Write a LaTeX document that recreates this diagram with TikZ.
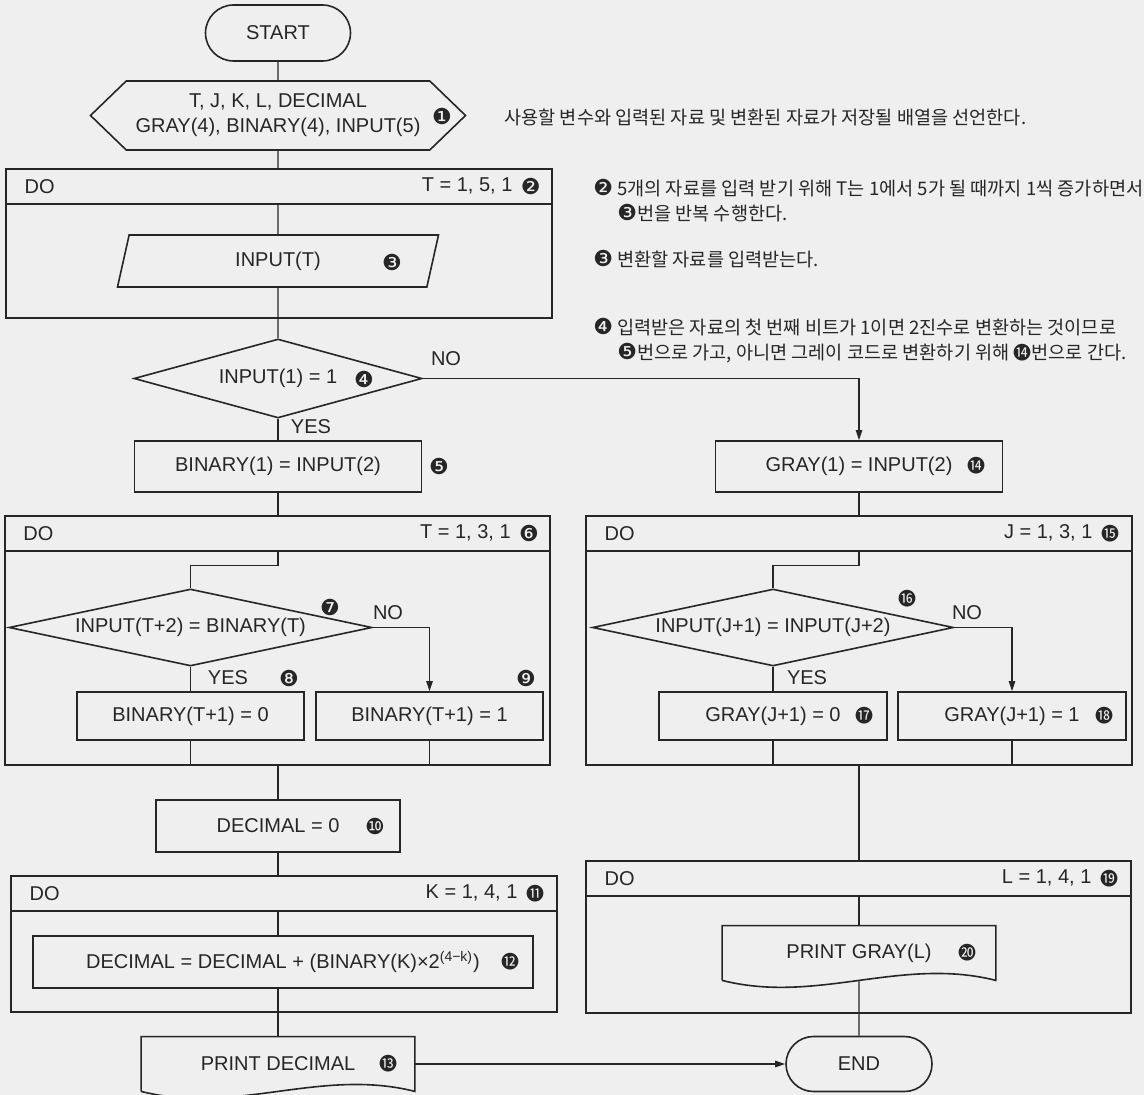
\documentclass[tikz,border=0pt]{standalone}
\usepackage{fontspec}
\setmainfont{Liberation Sans}
\newfontfamily\kr{Noto Sans CJK KR}
\newfontfamily\dv{DejaVu Sans}
\usetikzlibrary{arrows.meta,shapes.geometric,shapes.misc,shapes.symbols}
\definecolor{bg}{HTML}{EFEFEF}
\definecolor{ink}{HTML}{262626}
\newcommand\cn[1]{{\dv\fontsize{11}{10}\selectfont#1}}
\newcommand\ck[1]{{\kr\fontsize{9}{10}\selectfont#1}}
\tikzset{
  box/.style={draw=ink,line width=0.8pt,inner sep=0pt},
  proc/.style={box,rectangle},
  line/.style={draw=ink,line width=0.6pt},
  arr/.style={line,-{Triangle[length=5pt,width=3.2pt]}},
  num/.style={inner sep=0pt},
  note/.style={anchor=west,align=left,inner sep=0pt,font=\kr\fontsize{9.3}{12.5}\selectfont},
}
\begin{document}
\begin{tikzpicture}[x=0.5pt,y=-0.5pt,text=ink]
  \fill[bg] (0,0) rectangle (1144,1095);
  \useasboundingbox (0,0) rectangle (1144,1095);
  % left column
  \node[box,rounded rectangle,minimum width=72.5pt,minimum height=28pt] (start) at (278,33) {START};
  \node[box,signal,signal to=west and east,signal pointer angle=88,minimum width=187.5pt,minimum height=34.5pt,align=center] (decl) at (278,115.5) {T, J, K, L, DECIMAL\\[0.5pt]GRAY(4), BINARY(4), INPUT(5)};
  \node[proc,minimum width=273pt,minimum height=74.5pt] (doT) at (279,243.5) {};
  \node[box,trapezium,trapezium left angle=58,trapezium right angle=122,trapezium stretches body,minimum width=160.5pt,minimum height=26pt] (inp) at (278,261) {INPUT(T)};
  \node[box,diamond,aspect=3.6,minimum width=144pt,minimum height=39.5pt] (cond1) at (278,378.5) {INPUT(1) = 1};
  \node[proc,minimum width=143.5pt,minimum height=25.5pt] (b5) at (278,466.5) {BINARY(1) = INPUT(2)};
  \node[proc,minimum width=272.75pt,minimum height=124.5pt] (doT2) at (277.5,640.5) {};
  \node[box,diamond,aspect=4.7,minimum width=181.5pt,minimum height=38.5pt] (cond2) at (190.5,627.5) {INPUT(T+2) = BINARY(T)};
  \node[proc,minimum width=113.5pt,minimum height=24pt] (b8) at (190.5,716) {BINARY(T+1) = 0};
  \node[proc,minimum width=113.5pt,minimum height=24pt] (b9) at (429.5,716) {BINARY(T+1) = 1};
  \node[proc,minimum width=122pt,minimum height=26pt] (dec0) at (278,826) {DECIMAL = 0};
  \node[proc,minimum width=273pt,minimum height=68pt] (doK) at (284,944) {};
  \node[proc,minimum width=250pt,minimum height=26pt] (calc) at (283,962) {DECIMAL = DECIMAL + (BINARY(K)×2\textsuperscript{(4−k)})};
  \node[inner sep=0pt,minimum width=136.5pt,minimum height=27pt] (pd) at (278,1064) {PRINT DECIMAL};
  % right column
  \node[proc,minimum width=143.5pt,minimum height=25.5pt] (g1) at (859,466.5) {GRAY(1) = INPUT(2)};
  \node[proc,minimum width=273pt,minimum height=124.5pt] (doJ) at (859,640.5) {};
  \node[box,diamond,aspect=4.7,minimum width=180.5pt,minimum height=38.5pt] (cond3) at (773,627.5) {INPUT(J+1) = INPUT(J+2)};
  \node[proc,minimum width=114pt,minimum height=24pt] (b17) at (773,716) {GRAY(J+1) = 0};
  \node[proc,minimum width=114pt,minimum height=24pt] (b18) at (1012,716) {GRAY(J+1) = 1};
  \node[proc,minimum width=272.5pt,minimum height=76pt] (doL) at (858.5,937) {};
  \node[inner sep=0pt,minimum width=136.5pt,minimum height=27pt] (pg) at (859,953) {PRINT GRAY(L)};
  \node[box,rounded rectangle,minimum width=73pt,minimum height=27.5pt] (endn) at (859,1064) {END};
  \foreach \d in {pd,pg}
    \draw[box] (\d.south west) -- (\d.north west) -- (\d.north east) -- (\d.south east)
      .. controls +(-95,-24) and +(95,24) .. (\d.south west);
  \foreach \b/\r/\n in {doT/{T = 1, 5, 1}/\cn{❷}, doT2/{T = 1, 3, 1}/\cn{❻}, doK/{K = 1, 4, 1}/\ck{⓫}, doJ/{J = 1, 3, 1}/\ck{⓯}, doL/{L = 1, 4, 1}/\ck{⓳}}{
    \coordinate (\b-h) at ([yshift=-18pt]\b.north);
    \draw[box] (\b.west |- \b-h) -- (\b.east |- \b-h);
    \node[anchor=west,inner sep=0pt] (\b-do) at ([xshift=9.5pt,yshift=-9pt]\b.north west) {DO};
    \node[anchor=east,inner sep=0pt] (\b-r) at ([xshift=-20pt,yshift=-9pt]\b.north east) {\r};
    \node[num] (\b-n) at ([xshift=-11pt,yshift=-9pt]\b.north east) {\n};
  }
  % connectors
  \draw[line] (start) -- (decl);
  \draw[line] (decl) -- (decl |- doT.north);
  \draw[line] (inp |- doT-h) -- (inp);
  \draw[line] (inp) -- (cond1);
  \draw[line] (cond1) -- (b5);
  \draw[arr] (cond1.east) -| (g1.north);
  \draw[line] (b5) -- (b5 |- doT2.north);
  \draw[line] (b5 |- doT2-h) -- ++(0,14) -| (cond2.north);
  \draw[line] (cond2) -- (b8);
  \draw[arr] (cond2.east) -| (b9.north);
  \draw[line] (b8) -- (b8 |- doT2.south);
  \draw[line] (b9) -- (b9 |- doT2.south);
  \draw[line] (dec0 |- doT2.south) -- (dec0);
  \draw[line] (dec0) -- (dec0 |- doK.north);
  \draw[line] (dec0 |- doK-h) -- (dec0 |- calc.north);
  \draw[line] (dec0 |- calc.south) -- (pd.north);
  \draw[arr] (pd) -- (endn);
  \draw[line] (g1) -- (g1 |- doJ.north);
  \draw[line] (g1 |- doJ-h) -- ++(0,14) -| (cond3.north);
  \draw[line] (cond3) -- (b17);
  \draw[arr] (cond3.east) -| (b18.north);
  \draw[line] (b17) -- (b17 |- doJ.south);
  \draw[line] (b18) -- (b18 |- doJ.south);
  \draw[line] (g1 |- doJ.south) -- (g1 |- doL.north);
  \draw[line] (g1 |- doL-h) -- (pg.north);
  \draw[line] (pg.south) -- (endn);
  % labels
  \foreach \t/\x/\y [count=\i] in {NO/446/359, YES/311/427, NO/388/613, YES/228/678, NO/967/613, YES/807/678}
    \node (yn\i) at (\x,\y) {\t};
  \foreach \s/\x/\y [count=\i] in {\cn{❶}/442/116, \cn{❸}/392/262, \cn{❹}/364/379, \cn{❺}/439/466, \cn{❼}/330/607, \cn{❽}/289/678, \cn{❾}/526/678, \cn{❿}/375/826, \ck{⓬}/510/962, \ck{⓭}/388/1064, \ck{⓮}/976/466, \ck{⓰}/907/599, \ck{⓱}/864/716, \ck{⓲}/1104/716, \ck{⓴}/967/953}
    \node[num] (n\i) at (\x,\y) {\s};
  % notes
  \node[note] (note1) at (504,117) {사용할 변수와 입력된 자료 및 변환된 자료가 저장될 배열을 선언한다.};
  \node[note] (note2) at (593,200.5) {\cn{❷} 5개의 자료를 입력 받기 위해 T는 1에서 5가 될 때까지 1씩 증가하면서\\\hspace*{12pt}\cn{❸}번을 반복 수행한다.};
  \node[note] (note3) at (593,259) {\cn{❸} 변환할 자료를 입력받는다.};
  \node[note] (note4) at (593,340.5) {\cn{❹} 입력받은 자료의 첫 번째 비트가 1이면 2진수로 변환하는 것이므로\\\hspace*{12pt}\cn{❺}번으로 가고, 아니면 그레이 코드로 변환하기 위해 \ck{⓮}번으로 간다.};
\end{tikzpicture}
\end{document}
